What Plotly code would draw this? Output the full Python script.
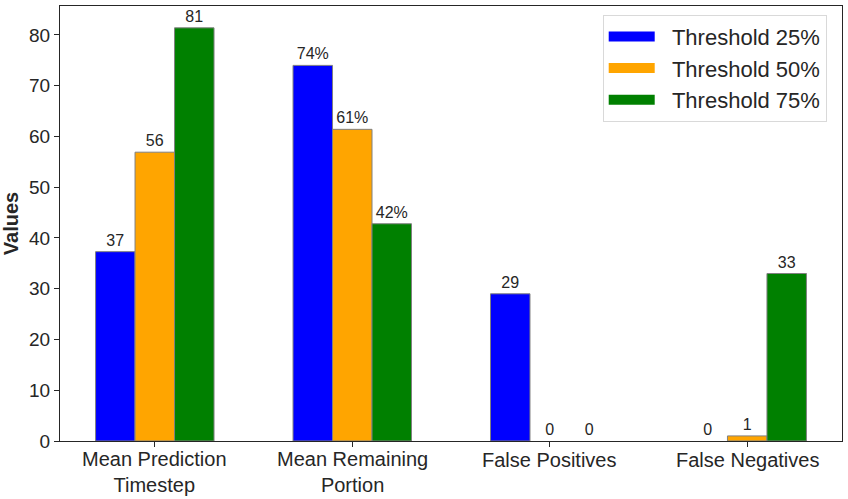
import plotly.graph_objects as go

categories = ["Mean Prediction Timestep", "Mean Remaining Portion", "False Positives", "False Negatives"]
tick_labels = ["Mean Prediction<br>Timestep", "Mean Remaining<br>Portion", "False Positives", "False Negatives"]
series_names = ["Threshold 25%", "Threshold 50%", "Threshold 75%"]
colors = ["blue", "orange", "green"]
vals_25 = [37.3, 74.0, 29.0, 0.0]
vals_50 = [56.9, 61.4, 0.0, 1.0]
vals_75 = [81.4, 42.8, 0.0, 33.0]
is_percent = [False, True, False, False]

TXT = "#262626"
FONT = "Liberation Sans, Arial, sans-serif"

def labels(vals):
    return [str(int(v)) + ("%" if p else "") for v, p in zip(vals, is_percent)]

fig = go.Figure()
for name, col, vals in zip(series_names, colors, [vals_25, vals_50, vals_75]):
    fig.add_trace(go.Bar(
        x=categories, y=vals, name=name, showlegend=False,
        marker=dict(color=col, line=dict(color="#808080",
                                         width=[0 if v == 0 else 1 for v in vals])),
        text=labels(vals), textposition="outside", cliponaxis=False,
        textfont=dict(size=16, color=TXT, family=FONT),
        constraintext="none", hoverinfo="skip",
    ))
# legend entries drawn as wide rectangles
for name, col in zip(series_names, colors):
    fig.add_trace(go.Scatter(
        x=[None], y=[None], name="&nbsp;&nbsp;" + name, mode="lines",
        line=dict(color=col, width=15), showlegend=True,
    ))

# category labels (two-line ones kept tight like the reference)
for cat, lab in zip(categories, tick_labels):
    two = "<br>" in lab
    fig.add_annotation(
        x=cat, xref="x", y=0, yref="paper", yanchor="middle",
        yshift=-31 if two else -19, text=lab, showarrow=False,
        font=dict(size=20, color=TXT, family=FONT),
    )

fig.update_layout(
    width=848, height=499,
    margin=dict(l=60, r=6, t=6, b=58, autoexpand=False),
    paper_bgcolor="white", plot_bgcolor="white",
    barmode="group", bargap=0.4, bargroupgap=0,
    font=dict(family=FONT, color=TXT),
    showlegend=True,
    legend=dict(
        x=0.694, y=0.98, xanchor="left", yanchor="top",
        font=dict(size=22, color=TXT, family=FONT),
        bgcolor="white", bordercolor="#d9d9d9", borderwidth=1,
        itemwidth=46, tracegroupgap=0,
    ),
)
fig.update_xaxes(
    range=[-0.48, 3.48], showline=True, linecolor=TXT, linewidth=1.2, mirror=True,
    ticks="outside", ticklen=5, tickcolor=TXT, layer="above traces",
    tickvals=categories, showticklabels=False, showgrid=False,
)
fig.update_yaxes(
    range=[0, 85.7], showline=True, linecolor=TXT, linewidth=1.2, mirror=True,
    ticks="outside", ticklen=5, tickcolor=TXT, dtick=10, layer="above traces",
    tickfont=dict(size=19, color=TXT, family=FONT), showgrid=False, zeroline=False,
    title=dict(text="<b>Values</b>", font=dict(size=20, color=TXT, family=FONT), standoff=8),
)

fig.write_html(
    "out.html",
    config={"displayModeBar": False},
    post_script="document.body.style.margin='0';document.body.style.overflow='hidden';",
)
